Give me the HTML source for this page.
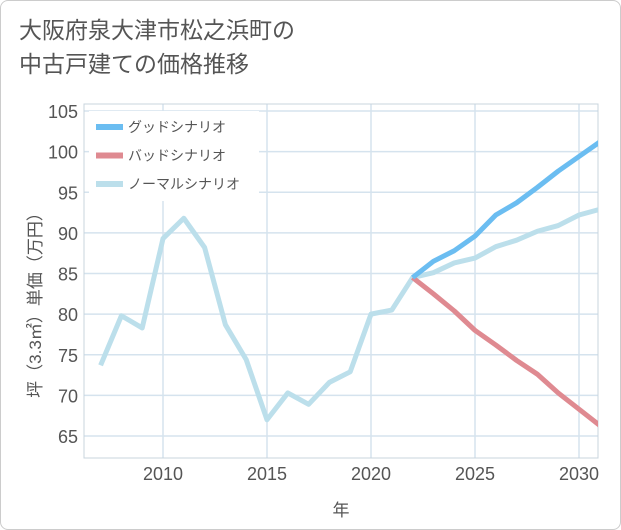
<!DOCTYPE html>
<html><head><meta charset="utf-8"><style>
body{margin:0;background:#fff}
#c{position:relative;width:621px;height:530px;box-sizing:border-box;border:1px solid #ccc;border-radius:8px;overflow:hidden;font-family:"Liberation Sans","Noto Sans CJK JP",sans-serif}
#t{position:absolute;left:18px;top:12px;font-size:23px;line-height:34px;color:#555}
</style></head><body>
<div id="c">
<div id="t">大阪府泉大津市松之浜町の<br>中古戸建ての価格推移</div>
<svg id="s" width="621" height="530" style="position:absolute;left:0;top:0"></svg>
</div>
<script>
const years=[2007,2008,2009,2010,2011,2012,2013,2014,2015,2016,2017,2018,2019,2020,2021,2022,2023,2024,2025,2026,2027,2028,2029,2030,2031];
const normal=[73.7,79.8,78.3,89.3,91.8,88.2,78.7,74.4,67.0,70.3,68.9,71.6,72.9,80.0,80.5,84.5,85.1,86.3,86.9,88.3,89.1,90.2,90.9,92.2,92.9];
const fyears=[2022,2023,2024,2025,2026,2027,2028,2029,2030,2031];
const good=[84.5,86.5,87.8,89.6,92.2,93.7,95.6,97.6,99.4,101.2];
const bad=[84.5,82.5,80.4,78.0,76.2,74.3,72.6,70.3,68.3,66.3];
const xTicks=[2010,2015,2020,2025,2030];
const yTicks=[65,70,75,80,85,90,95,100,105];
const L=83,R=597,T=103,B=457;
const x=v=>162+(v-2010)*20.8;
const y=v=>110+(105-v)*8.125;
const s=document.getElementById('s');const NS='http://www.w3.org/2000/svg';
function el(t,a,p){const e=document.createElementNS(NS,t);for(const k in a)e.setAttribute(k,a[k]);(p||s).appendChild(e);return e;}
const cp=el('clipPath',{id:'cp'});el('rect',{x:L,y:T,width:R-L,height:B-T},cp);
yTicks.forEach(v=>{const g=el('line',{x1:L,x2:R,y1:y(v),y2:y(v),stroke:'#d5e3ee','stroke-width':1.5});

const t=el('text',{x:L-6,y:y(v)+7,'text-anchor':'end','font-size':18,fill:'#555'});t.textContent=v;
});
xTicks.forEach(v=>{const g=el('line',{x1:x(v),x2:x(v),y1:T,y2:B,stroke:'#d5e3ee','stroke-width':1.5});

const t=el('text',{x:x(v),y:B+22,'text-anchor':'middle','font-size':18,fill:'#555'});t.textContent=v;
});
const ax=el('path',{d:`M${L} ${T}V${B}H${R}`,fill:'none',stroke:'#6b7d8c','stroke-width':1});

el('rect',{x:L,y:T,width:R-L,height:B-T,fill:'none',stroke:'#c8d4de','stroke-width':1});
function line(xs,vs,c,n){const p=el('polyline',{points:xs.map((v,i)=>x(v)+','+y(vs[i])).join(' '),fill:'none',stroke:c,'stroke-width':5,'stroke-linejoin':'round','clip-path':'url(#cp)'});
}
line(years,normal,'#bcdfeb','normal-line');
line(fyears,bad,'#df8a91','bad-line');
line(fyears,good,'#6bbdf1','good-line');
el('rect',{x:88,y:110,width:170,height:90,fill:'#fff'});
[['グッドシナリオ','#6bbdf1'],['バッドシナリオ','#df8a91'],['ノーマルシナリオ','#bcdfeb']].forEach((l,i)=>{
const yy=126+i*28.5;const g=el('g',{});
el('line',{x1:95,x2:122,y1:yy,y2:yy,stroke:l[1],'stroke-width':6},g);
const t=el('text',{x:127,y:yy+5,'font-size':14,fill:'#555'},g);t.textContent=l[0];});
const yt=el('text',{transform:'translate(40,300) rotate(-90)','text-anchor':'middle','font-size':17,fill:'#555'});yt.textContent='坪（3.3㎡）単価（万円）';

const xt=el('text',{x:340,y:515,'text-anchor':'middle','font-size':17,fill:'#555'});xt.textContent='年';

</script>
</body></html>
